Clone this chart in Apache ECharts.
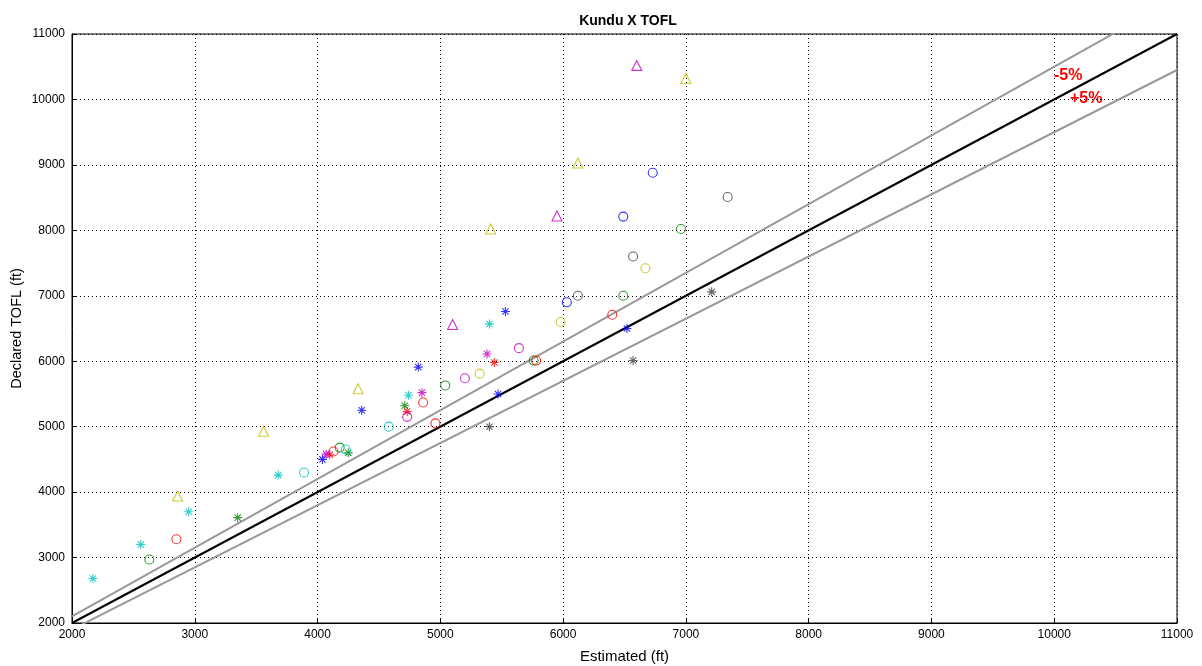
<!DOCTYPE html>
<html>
<head>
<meta charset="utf-8">
<script src="https://cdn.jsdelivr.net/npm/echarts@6/dist/echarts.min.js"></script>
<style>
  html, body { margin: 0; padding: 0; background: #fff; }
  #main { width: 1202px; height: 666px; }
</style>
</head>
<body>
<div id="main"></div>
<script>
// axis ticks
const xTicks = [2000, 3000, 4000, 5000, 6000, 7000, 8000, 9000, 10000, 11000];
const yTicks = [2000, 3000, 4000, 5000, 6000, 7000, 8000, 9000, 10000, 11000];

// points [estimated, declared], grouped by colour and marker
const blueStar = [[4040, 4500], [4360, 5250], [4820, 5910], [5470, 5500], [5530, 6760], [6520, 6500]];
const blueCircle = [[6030, 6900], [6490, 8210], [6730, 8880]];
const greenStar = [[3350, 3610], [4250, 4600], [4710, 5320]];
const greenCircle = [[2630, 2970], [4180, 4680], [5040, 5630], [5760, 6010], [6490, 7000], [6960, 8020]];
const redStar = [[4100, 4570], [4730, 5230], [5440, 5980]];
const redCircle = [[2850, 3280], [4130, 4620], [4860, 5370], [4960, 5050], [5780, 6010], [6400, 6710]];
const cyanStar = [[2170, 2680], [2560, 3200], [2950, 3700], [3680, 4260], [4740, 5480], [5400, 6570]];
const cyanCircle = [[3890, 4300], [4230, 4650], [4580, 5000]];
const magentaStar = [[4070, 4580], [4850, 5520], [5380, 6110]];
const magentaCircle = [[4730, 5150], [5200, 5740], [5640, 6200]];
const magentaTriangle = [[5100, 6560], [5950, 8220], [6600, 10520]];
const yellowCircle = [[5320, 5810], [5980, 6600], [6670, 7420]];
const yellowTriangle = [[2860, 3940], [3560, 4930], [4330, 5580], [5410, 8020], [6120, 9030], [7000, 10320]];
const grayStar = [[5400, 5000], [6570, 6010], [7210, 7060]];
const grayCircle = [[6120, 7000], [6570, 7600], [7340, 8510]];

// reference lines: exact, -5% (x*1.05), +5% (x*0.95)
const refX = [2000, 11000];
const refFactors = [1, 1.05, 0.95];

const chart = echarts.init(document.getElementById('main'));

const STAR = 'path://M5,0L5,10M0,5L10,5M1.5,1.5L8.5,8.5M1.5,8.5L8.5,1.5';
const FONT = 'Liberation Sans';

function pts(data, color, symbol, size) {
  return {
    type: 'scatter',
    data: data,
    symbol: symbol,
    symbolSize: size,
    itemStyle: { color: 'rgba(0,0,0,0)', borderColor: color, borderWidth: 1.1 },
    emphasis: { disabled: true },
    z: 5
  };
}

function refLine(f, color, width) {
  return {
    type: 'line',
    data: refX.map(x => [x, x * f]),
    symbol: 'none',
    clip: true,
    lineStyle: { color: color, width: width },
    z: 3
  };
}

const C = {
  blue: '#0000ff', green: '#008000', red: '#ff0000', cyan: '#00bfbf',
  magenta: '#bf00bf', yellow: '#bfbf00', gray: '#404040'
};

chart.setOption({
  backgroundColor: '#fff',
  animation: false,
  title: {
    text: 'Kundu X TOFL',
    left: 623, top: 9, textAlign: 'center',
    textStyle: { fontFamily: FONT, fontSize: 14, fontWeight: 'bold', color: '#000' }
  },
  grid: { left: 72, right: 25, top: 34, bottom: 43, show: true, borderColor: '#000', borderWidth: 1,
    outerBoundsMode: 'none' },
  xAxis: {
    type: 'value', min: 2000, max: 11000, interval: 1000,
    name: 'Estimated (ft)', nameLocation: 'middle', nameGap: 26, nameMoveOverlap: false,
    nameTextStyle: { fontFamily: FONT, fontSize: 15, color: '#000' },
    axisLine: { lineStyle: { color: '#000' } },
    axisTick: { inside: true, length: 5, lineStyle: { color: '#000' } },
    axisLabel: { fontFamily: FONT, fontSize: 12, color: '#000', margin: 6,
      formatter: v => xTicks.includes(v) ? String(v) : '' },
    splitLine: { lineStyle: { color: '#000', type: [1, 3], width: 1 } }
  },
  yAxis: {
    type: 'value', min: 2000, max: 11000, interval: 1000,
    name: 'Declared TOFL (ft)', nameLocation: 'middle', nameGap: 48, nameMoveOverlap: false,
    nameTextStyle: { fontFamily: FONT, fontSize: 14.5, color: '#000' },
    axisLine: { lineStyle: { color: '#000' } },
    axisTick: { inside: true, length: 5, lineStyle: { color: '#000' } },
    axisLabel: { fontFamily: FONT, fontSize: 12, color: '#000', margin: 7,
      formatter: v => yTicks.includes(v) ? String(v) : '' },
    splitLine: { lineStyle: { color: '#000', type: [1, 3], width: 1 } }
  },
  graphic: [
    { type: 'text', left: 1054, top: 68, style: { text: '-5%', fill: '#ff0000',
      font: 'bold 16px "Liberation Sans"' } },
    { type: 'text', left: 1070, top: 91, style: { text: '+5%', fill: '#ff0000',
      font: 'bold 16px "Liberation Sans"' } }
  ],
  series: [
    refLine(refFactors[1], '#999999', 2),
    refLine(refFactors[2], '#999999', 2),
    refLine(refFactors[0], '#000000', 2),
    pts(blueStar, C.blue, STAR, 9),
    pts(blueCircle, C.blue, 'circle', 9),
    pts(greenStar, C.green, STAR, 9),
    pts(greenCircle, C.green, 'circle', 9),
    pts(redStar, C.red, STAR, 9),
    pts(redCircle, C.red, 'circle', 9),
    pts(cyanStar, C.cyan, STAR, 9),
    pts(cyanCircle, C.cyan, 'circle', 9),
    pts(magentaStar, C.magenta, STAR, 9),
    pts(magentaCircle, C.magenta, 'circle', 9),
    pts(magentaTriangle, C.magenta, 'triangle', 10),
    pts(yellowCircle, C.yellow, 'circle', 9),
    pts(yellowTriangle, C.yellow, 'triangle', 10),
    pts(grayStar, C.gray, STAR, 9),
    pts(grayCircle, C.gray, 'circle', 9)
  ]
});
</script>
</body>
</html>
